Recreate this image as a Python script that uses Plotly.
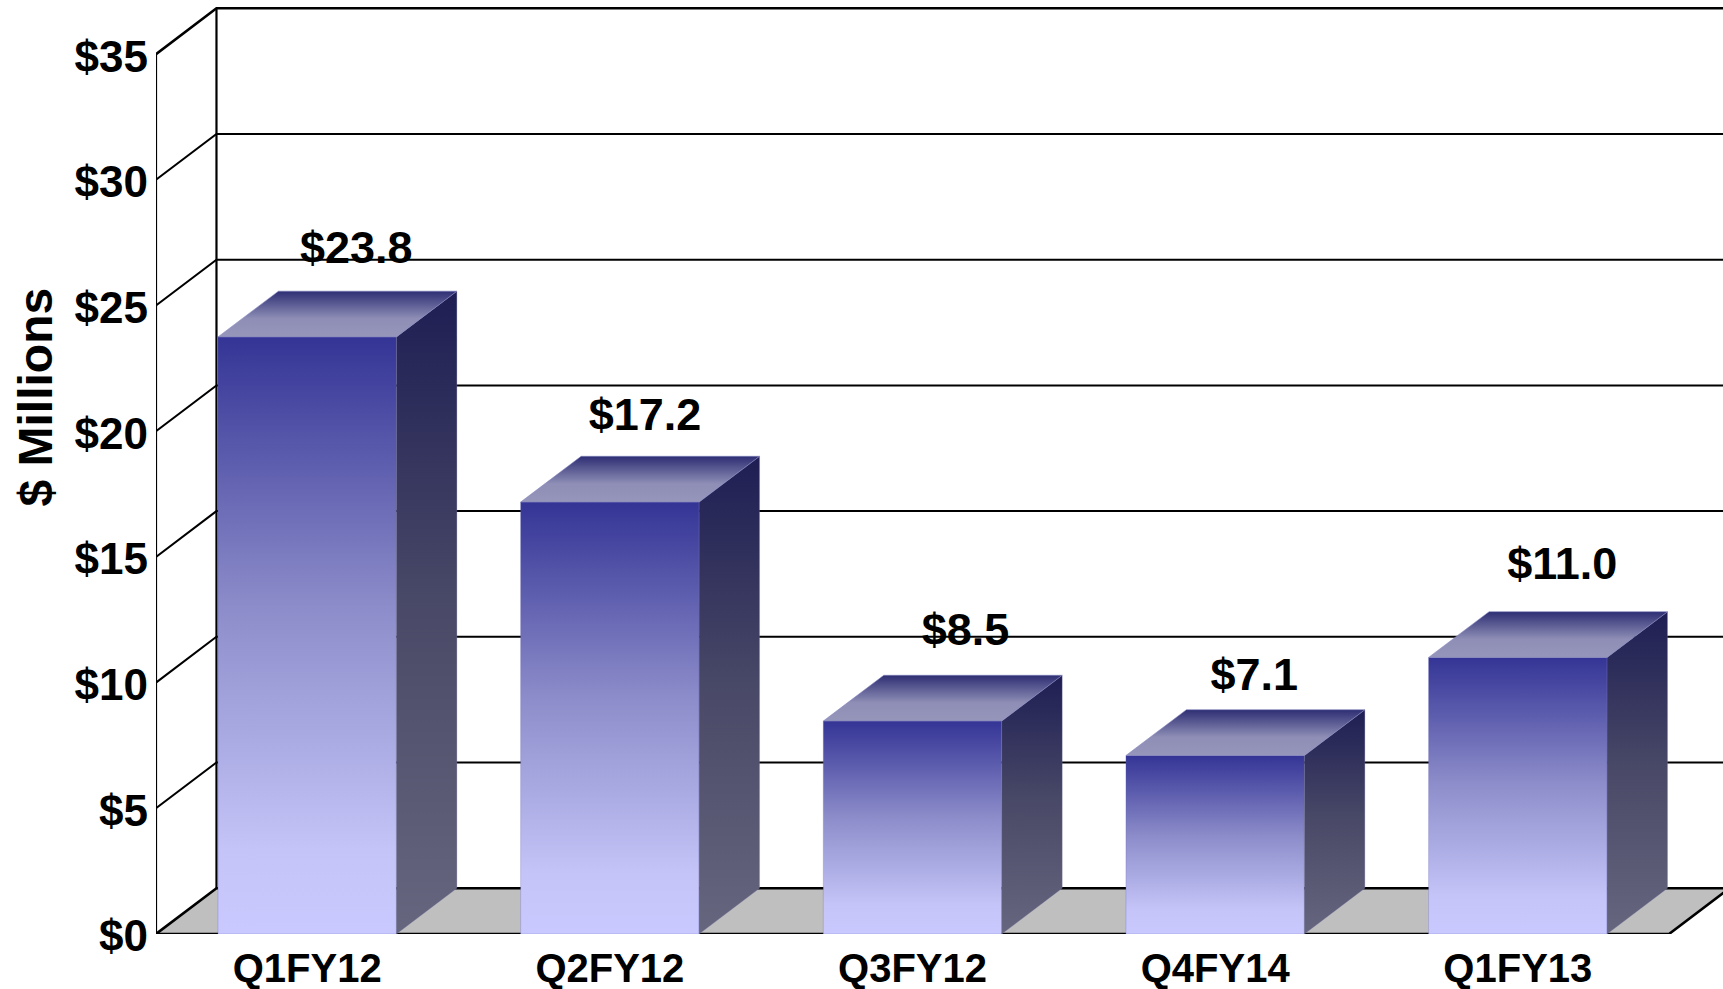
import plotly.graph_objects as go

categories = ["Q1FY12", "Q2FY12", "Q3FY12", "Q4FY14", "Q1FY13"]
values = [23.75, 17.18, 8.47, 7.1, 11.0]
labels = ["$23.8", "$17.2", "$8.5", "$7.1", "$11.0"]
y_ticks = [0, 5, 10, 15, 20, 25, 30, 35]
y_tick_labels = ["$0", "$5", "$10", "$15", "$20", "$25", "$30", "$35"]
label_nudge = [0.162, 0.116, 0.175, 0.129, 0.147]
label_gap_px = [39, 38, 42, 31, 43.5]

W, H = 1723, 989
X0, Y0 = 155.5, 934            # pixel position of the front-left origin
PX_PER_CAT, PX_PER_VAL = 302.75, 25.14
FIRST_CAT_PX = 306.75
DX, DY = 60.5 / PX_PER_CAT, 45.8 / PX_PER_VAL
HALF = 89.25 / PX_PER_CAT
FLOOR_RIGHT = (1669 - FIRST_CAT_PX) / PX_PER_CAT
XMIN = (X0 - FIRST_CAT_PX) / PX_PER_CAT
XMAX = (W - FIRST_CAT_PX) / PX_PER_CAT
YMAX = Y0 / PX_PER_VAL

FONT = "Liberation Sans"
fig = go.Figure()


def line(xs, ys, width=2.0):
    fig.add_trace(go.Scatter(x=xs, y=ys, mode="lines", cliponaxis=False, hoverinfo="skip",
                             showlegend=False, line=dict(color="#000000", width=width)))


def face(xs, ys, stops, lo, hi, edge):
    fig.add_trace(go.Scatter(
        x=xs + xs[:1], y=ys + ys[:1], mode="lines", fill="toself", cliponaxis=False,
        hoverinfo="skip", showlegend=False, line=dict(color=edge, width=0.8),
        fillgradient=dict(type="vertical", colorscale=stops, start=lo, stop=hi)))


# floor
fig.add_trace(go.Scatter(
    x=[XMIN, FLOOR_RIGHT, FLOOR_RIGHT + DX, XMIN + DX, XMIN],
    y=[0, 0, DY, DY, 0], mode="none", fill="toself", fillcolor="#bfbfbf",
    cliponaxis=False, hoverinfo="skip", showlegend=False))

# gridlines on the back wall and their returns on the side wall
for t in y_ticks:
    line([XMIN, XMIN + DX, FLOOR_RIGHT + DX], [t, t + DY, t + DY], 2.6 if t in (0, 35) else 2.0)
line([XMIN, XMIN], [0, 35], 2.2)
line([XMIN + DX, XMIN + DX], [DY, 35 + DY], 2.2)
line([XMIN, FLOOR_RIGHT, FLOOR_RIGHT + DX], [0, 0, DY], 2.6)

FRONT = [[0, "#c9c9ff"], [0.14, "#c4c4f8"], [0.55, "#8c8cca"], [1, "#343496"]]
SIDE = [[0, "#66667f"], [0.5, "#4a4a68"], [1, "#1e1e54"]]
TOP = [[0, "#9696bb"], [0.4, "#8e8eb6"], [1, "#2e2e74"]]

for i, v in enumerate(values):
    l, r = i - HALF, i + HALF
    face([l, r, r, l], [0, 0, v, v], FRONT, 0, v, "rgba(100,100,180,0.35)")
    face([r, r + DX, r + DX, r], [0, DY, v + DY, v], SIDE, 0, v + DY, "rgba(120,120,170,0.35)")
    face([l, r, r + DX, l + DX], [v, v, v + DY, v + DY], TOP, v, v + DY, "rgba(130,130,190,0.7)")

fig.add_trace(go.Scatter(
    x=[i + n for i, n in enumerate(label_nudge)],
    y=[v + DY + g / PX_PER_VAL for v, g in zip(values, label_gap_px)],
    mode="text", text=labels, textposition="middle center", cliponaxis=False,
    textfont=dict(family=FONT, size=45, color="#000000", weight=700),
    showlegend=False, hoverinfo="skip"))

fig.update_layout(
    width=W, height=H, margin=dict(l=X0, r=0, t=0, b=H - Y0, pad=0, autoexpand=False),
    paper_bgcolor="#ffffff", plot_bgcolor="#ffffff", showlegend=False,
    xaxis=dict(range=[XMIN, XMAX], tickmode="array", tickvals=list(range(len(categories))),
               ticktext=categories, showgrid=False, zeroline=False, showline=False,
               ticks="", ticklabelstandoff=7,
               tickfont=dict(family=FONT, size=40, color="#000000", weight=700)),
    yaxis=dict(range=[0, YMAX], tickmode="array", tickvals=y_ticks, ticktext=y_tick_labels,
               showgrid=False, zeroline=False, showline=False,
               ticks="", ticklabelshift=2, ticklabelstandoff=7,
               tickfont=dict(family=FONT, size=44, color="#000000", weight=700)),
    annotations=[dict(text="$ Millions", textangle=-90, xref="paper", yref="paper",
                      x=(34 - X0) / (W - X0), y=(Y0 - 397) / Y0, xanchor="center", yanchor="middle",
                      showarrow=False, font=dict(family=FONT, size=48, color="#000000", weight=700))],
)

fig.write_html("out.html", config={"displayModeBar": False},
               post_script="document.body.style.margin='0';document.documentElement.style.overflow='hidden';")
